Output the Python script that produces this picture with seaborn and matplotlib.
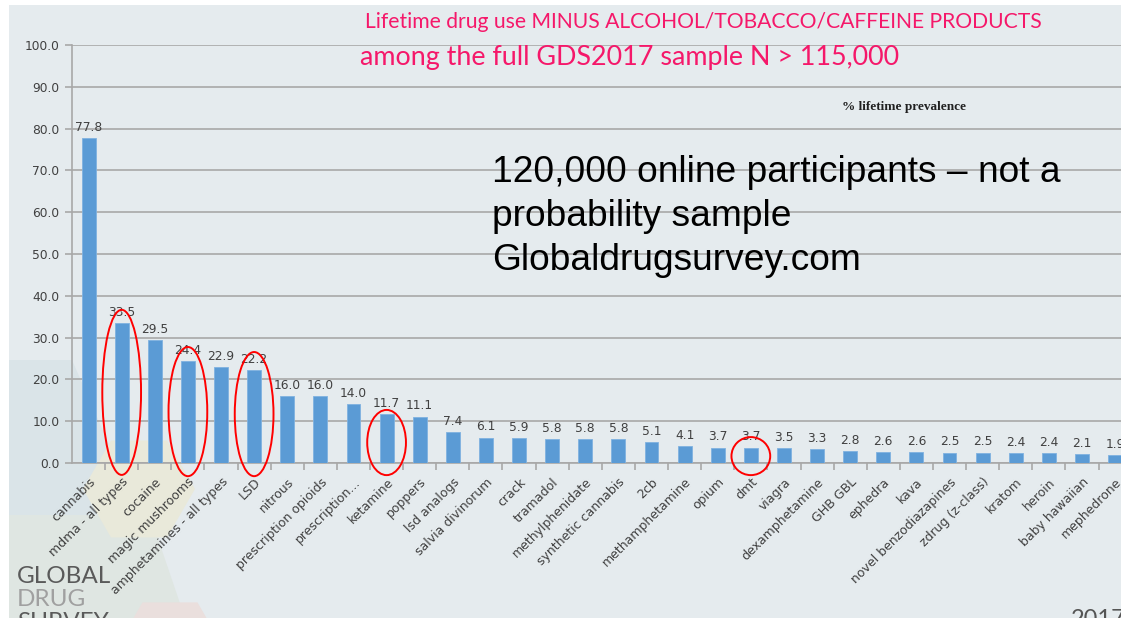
import matplotlib
matplotlib.use("Agg")
import matplotlib.pyplot as plt
from matplotlib.patches import Ellipse, Polygon
import numpy as np
import seaborn as sns
import pandas as pd

drugs = [
    "cannabis", "mdma - all types", "cocaine", "magic mushrooms",
    "amphetamines - all types", "LSD", "nitrous", "prescription opioids",
    "prescription...", "ketamine", "poppers", "lsd analogs",
    "salvia divinorum", "crack", "tramadol", "methylphenidate",
    "synthetic cannabis", "2cb", "methamphetamine", "opium", "dmt",
    "viagra", "dexamphetamine", "GHB GBL", "ephedra", "kava",
    "novel benzodiazapines", "zdrug (z-class)", "kratom", "heroin",
    "baby hawaiian", "mephedrone",
]
prevalence = [
    77.8, 33.5, 29.5, 24.4, 22.9, 22.2, 16.0, 16.0, 14.0, 11.7, 11.1, 7.4,
    6.1, 5.9, 5.8, 5.8, 5.8, 5.1, 4.1, 3.7, 3.7, 3.5, 3.3, 2.8, 2.6, 2.6,
    2.5, 2.5, 2.4, 2.4, 2.1, 1.9,
]
y_ticks = [0, 10, 20, 30, 40, 50, 60, 70, 80, 90, 100]

# highlighted drugs: (name, ellipse centre y, ellipse height)
highlights = [
    ("mdma - all types", 16.9, 39.5),
    ("magic mushrooms", 12.3, 30.9),
    ("LSD", 11.7, 29.7),
    ("ketamine", 4.9, 15.6),
    ("dmt", 1.65, 9.1),
]

title_1 = "Lifetime drug use MINUS ALCOHOL/TOBACCO/CAFFEINE PRODUCTS"
title_2 = "among the full GDS2017 sample N > 115,000"
note_lines = ["120,000 online participants \u2013 not a",
              "probability sample",
              "Globaldrugsurvey.com"]

df = pd.DataFrame({"drug": drugs, "pct": prevalence})

W, H = 1121, 618
BG = "#e5ebee"
TXT = "#404040"
GRID = "#a8a8a8"

fig = plt.figure(figsize=(W / 100, H / 100), dpi=100, facecolor=BG)


def fx(px):
    return px / W


def fy(py):
    return 1 - py / H


def fig_poly(points_px, color, alpha=1.0):
    pts = [(fx(x), fy(y)) for x, y in points_px]
    fig.patches.append(Polygon(pts, closed=True, transform=fig.transFigure,
                               facecolor=color, edgecolor="none",
                               alpha=alpha, zorder=-5))


def hexagon(cx, cy, r):
    ang = np.deg2rad(np.arange(0, 360, 60))
    return list(zip(cx + r * np.cos(ang), cy + r * np.sin(ang)))


# slide decoration behind the chart
fig_poly([(0, 0), (9, 0), (9, 618), (0, 618)], "white")
fig_poly([(0, 0), (1121, 0), (1121, 5), (0, 5)], "white")
fig_poly([(9, 360), (72, 360), (185, 618), (9, 618)], "#dae4e8")
fig_poly([(9, 515), (150, 515), (185, 618), (9, 618)], "#dfe6e2")
fig_poly(hexagon(139, 489, 56), "#e9e9da")
fig_poly(hexagon(170, 650, 55), "#eadfdd")

ax = fig.add_axes([fx(72), fy(463), 1 - fx(72), fy(45) - fy(463)])
ax.set_facecolor("none")

sns.barplot(data=df, x="drug", y="pct", color="#5b9bd5", width=0.42,
            saturation=1, edgecolor="#7fb2e0", linewidth=0.6, ax=ax, zorder=3)

ax.set_yticks(y_ticks)
ax.set_yticklabels([f"{v:.1f}" for v in y_ticks], fontsize=8.8, color=TXT)
ax.yaxis.grid(True, color=GRID, linewidth=1.2, zorder=0)
ax.set_axisbelow(True)
ax.set_xlabel("")
ax.set_ylabel("")

for s in ["top", "right"]:
    ax.spines[s].set_visible(False)
for s in ["left", "bottom"]:
    ax.spines[s].set_color(GRID)
    ax.spines[s].set_linewidth(1.2)

ax.tick_params(axis="y", length=5, color=GRID, width=1.2, pad=4)
ax.tick_params(axis="x", which="major", length=0, pad=9)
ax.set_xticks([i + 0.5 for i in range(len(drugs))], minor=True)
ax.tick_params(axis="x", which="minor", length=5, color=GRID, width=1.2)
ax.set_xticks(range(len(drugs)))
ax.set_xticklabels(drugs, rotation=45, ha="right", va="top",
                   rotation_mode="anchor", fontsize=9, color=TXT)

# the plot area runs past the right edge of the slide
ax.set_xlim(-0.5, (W - 89) / 33.1)
ax.set_ylim(0, 100)

for c in ax.containers:
    ax.bar_label(c, labels=[f"{v:.1f}" for v in prevalence], padding=3,
                 fontsize=8.8, color=TXT)

for name, cy, hgt in highlights:
    ax.add_patch(Ellipse((drugs.index(name), cy), 1.17, hgt, fill=False,
                         edgecolor="#ff0000", linewidth=1.4, clip_on=False,
                         zorder=5))

fig.text(fx(365), fy(28), title_1, fontsize=15.2, color="#f5186a",
         family="Lato", ha="left", va="baseline")
fig.text(fx(360), fy(65), title_2, fontsize=19.4, color="#f5186a",
         family="Lato", ha="left", va="baseline")

fig.text(fx(904), fy(107), "% lifetime prevalence", fontsize=9.5,
         family="Liberation Serif", weight="bold", color="#202020",
         ha="center", va="center")

for i, line in enumerate(note_lines):
    fig.text(fx(492), fy(173 + 43.5 * i), line, fontsize=26.7,
             family="Liberation Sans", color="black", ha="left", va="center")

fig.text(fx(17), fy(583), "GLOBAL", fontsize=17.5, color="#5a5a5a",
         family="Lato", ha="left", va="baseline")
fig.text(fx(17), fy(606), "DRUG", fontsize=17.5, color="#a0a0a0",
         family="Lato", ha="left", va="baseline")
fig.text(fx(17), fy(629), "SURVEY", fontsize=17.5, color="#5a5a5a",
         family="Lato", ha="left", va="baseline")
fig.text(fx(1071), fy(626), "2017", fontsize=17, color="#555555",
         family="Lato", ha="left", va="baseline")

fig.savefig("out.png", dpi=100, facecolor=BG)
